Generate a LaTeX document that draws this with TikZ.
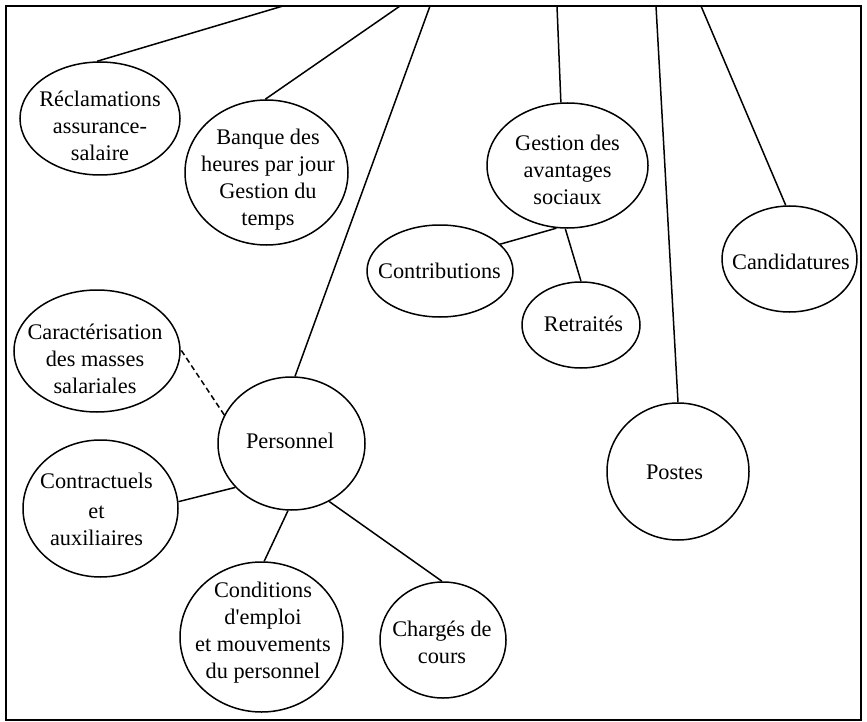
\documentclass[tikz,border=0pt]{standalone}
\usepackage{fontspec}
\setmainfont{Liberation Serif}
\usetikzlibrary{shapes.geometric}
\begin{document}
\begin{tikzpicture}[x=1pt,y=-1pt,
  oval/.style={draw, ellipse, line width=1.5pt, inner sep=0pt},
  lbl/.style={align=center, inner sep=0pt, font=\fontsize{22.3}{27}\selectfont},
  link/.style={line width=1.5pt},
  dashlink/.style={line width=1.5pt, dash pattern=on 5.5pt off 3.5pt}]
\useasboundingbox (0,0) rectangle (867,722);
\draw[line width=2.2pt] (6,6) rectangle (861,720);

% hub end points on the top border
\coordinate (t1) at (283,6);
\coordinate (t2) at (400,6);
\coordinate (t3) at (430,6);
\coordinate (t4) at (557,6);
\coordinate (t5) at (656,6);
\coordinate (t6) at (701,6);

% ellipses
\node[oval, minimum width=160pt, minimum height=113pt] (recl) at (100,118.5) {};
\node[oval, minimum width=163pt, minimum height=145pt] (banque) at (266.5,172.5) {};
\node[oval, minimum width=161pt, minimum height=125pt] (gest) at (567.5,165.5) {};
\node[oval, minimum width=146pt, minimum height=92pt] (contrib) at (440,271) {};
\node[oval, minimum width=118pt, minimum height=86pt] (retr) at (581,325) {};
\node[oval, minimum width=135pt, minimum height=106pt] (cand) at (789.5,259) {};
\node[oval, minimum width=142pt, minimum height=137pt] (postes) at (678,471.5) {};
\node[oval, minimum width=147pt, minimum height=133pt] (pers) at (291.5,443.5) {};
\node[oval, minimum width=166pt, minimum height=122pt] (carac) at (97,351) {};
\node[oval, minimum width=155pt, minimum height=137pt] (contr) at (100.5,508.5) {};
\node[oval, minimum width=163pt, minimum height=150pt] (cond) at (261.5,637) {};
\node[oval, minimum width=126pt, minimum height=116pt] (charg) at (443,640) {};

% labels
\node[lbl] (recl-t) at (100,126) {Réclamations\\assurance-\\salaire};
\node[lbl] (banque-t) at (268,180) {Banque des\\heures par jour\\Gestion du\\temps};
\node[lbl] (gest-t) at (567.5,169.5) {Gestion des\\avantages\\sociaux};
\node[lbl] (contrib-t) at (439.5,270.5) {Contributions};
\node[lbl] (retr-t) at (583.5,323.5) {Retraités};
\node[lbl] (cand-t) at (791,261.5) {Candidatures};
\node[lbl] (postes-t) at (674.5,472.5) {Postes};
\node[lbl] (pers-t) at (290,440.5) {Personnel};
\node[lbl] (carac-t) at (95,359) {Caractérisation\\des masses\\salariales};
\node[lbl] (contr-t) at (96.5,509) {Contractuels\\[3pt]et\\auxiliaires};
\node[lbl] (cond-t) at (263,633) {Conditions\\d\textquotesingle emploi\\et mouvements\\du personnel};
\node[lbl] (charg-t) at (442,642.5) {Chargés de\\cours};

% connectors
\draw[link] (t1) -- (recl.93);
\draw[link] (t2) -- (banque.91);
\draw[link] (t3) -- (pers.87);
\draw[link] (t4) -- (gest.96);
\draw[link] (t5) -- (postes.90);
\draw[link] (t6) -- (cand.94);
\draw[dashlink] (pers.157) -- (carac.1);
\draw[link] (contr.5) -- (pers.218);
\draw[link] (pers.267) -- (cond.88);
\draw[link] (pers.303) -- (charg.91);
\draw[link] (gest.260) -- (contrib.24);
\draw[link] (gest.268) -- (retr.90);
\end{tikzpicture}
\end{document}
